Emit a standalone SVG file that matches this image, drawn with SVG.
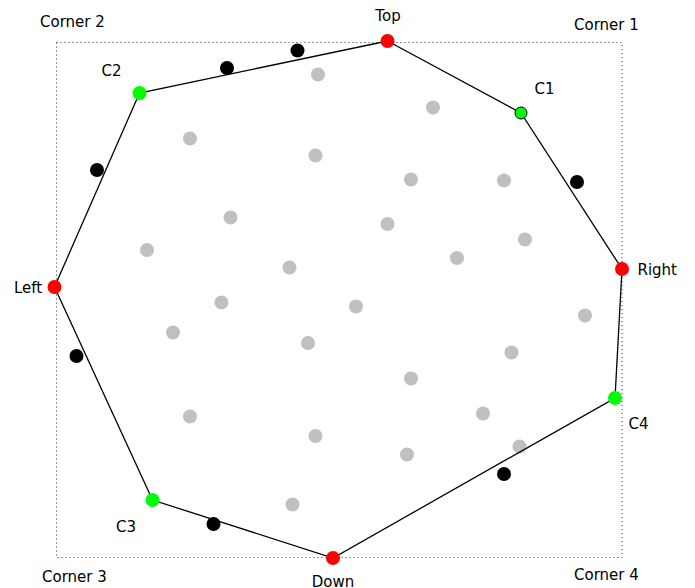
<svg xmlns="http://www.w3.org/2000/svg" width="695" height="588" viewBox="0 0 695 588">
<style>
.lbl{font-family:"DejaVu Sans",sans-serif;font-size:15px;fill:#000}
.g{fill:#c0c0c0}
.b{fill:#000}
.r{fill:#ff0000}
.gr{fill:#00ff00}
.edge{fill:none;stroke:#000;stroke-width:1.3}
</style>
<rect width="695" height="588" fill="#fff"/>
<rect x="56.5" y="42.5" width="565.5" height="515" fill="none" stroke="#333" stroke-width="1" stroke-dasharray="1 3"/>
<g id="gray-points">
<circle class="g" cx="318" cy="74.5" r="7"/>
<circle class="g" cx="433" cy="107.5" r="7"/>
<circle class="g" cx="190" cy="138.5" r="7"/>
<circle class="g" cx="315.5" cy="155.5" r="7"/>
<circle class="g" cx="411" cy="179.5" r="7"/>
<circle class="g" cx="504" cy="180.5" r="7"/>
<circle class="g" cx="230.5" cy="217.5" r="7"/>
<circle class="g" cx="387.5" cy="224" r="7"/>
<circle class="g" cx="525" cy="239.5" r="7"/>
<circle class="g" cx="147" cy="250" r="7"/>
<circle class="g" cx="457" cy="258" r="7"/>
<circle class="g" cx="289.5" cy="267.5" r="7"/>
<circle class="g" cx="221.5" cy="302.5" r="7"/>
<circle class="g" cx="356" cy="306.5" r="7"/>
<circle class="g" cx="585" cy="315.5" r="7"/>
<circle class="g" cx="173" cy="332.5" r="7"/>
<circle class="g" cx="308" cy="343" r="7"/>
<circle class="g" cx="511.5" cy="352.5" r="7"/>
<circle class="g" cx="411" cy="378.5" r="7"/>
<circle class="g" cx="190" cy="416.5" r="7"/>
<circle class="g" cx="483" cy="413.5" r="7"/>
<circle class="g" cx="315.5" cy="436" r="7"/>
<circle class="g" cx="519.5" cy="446.5" r="7"/>
<circle class="g" cx="407" cy="454.5" r="7"/>
<circle class="g" cx="292.5" cy="504.5" r="7"/>
</g>
<g id="connectors">
<polygon class="edge" points="387.5,41 521,113 622,269 615,398 333,558 152.5,500 54.5,287 139.5,93"/>
</g>
<g id="black-points">
<circle class="b" cx="227" cy="68" r="7"/>
<circle class="b" cx="297.5" cy="50.5" r="7"/>
<circle class="b" cx="97" cy="170" r="7"/>
<circle class="b" cx="577" cy="182" r="7"/>
<circle class="b" cx="76.5" cy="356" r="7"/>
<circle class="b" cx="213.5" cy="524" r="7"/>
<circle class="b" cx="504" cy="474" r="7"/>
</g>
<g id="top"><circle class="r" cx="387.5" cy="41" r="7"/><text class="lbl" x="388" y="20.5" text-anchor="middle">Top</text></g>
<g id="c1"><circle class="gr" cx="521" cy="113" r="6" stroke="#000" stroke-width="1"/><text class="lbl" x="534.5" y="94">C1</text></g>
<g id="right"><circle class="r" cx="622" cy="269" r="7"/><text class="lbl" x="637.5" y="274.5">Right</text></g>
<g id="c4"><circle class="gr" cx="615" cy="398" r="7"/><text class="lbl" x="628.5" y="429">C4</text></g>
<g id="down"><circle class="r" cx="333" cy="558" r="7"/><text class="lbl" x="333" y="586.5" text-anchor="middle">Down</text></g>
<g id="c3"><circle class="gr" cx="152.5" cy="500" r="7"/><text class="lbl" x="116" y="531.5">C3</text></g>
<g id="left"><circle class="r" cx="54.5" cy="287" r="7"/><text class="lbl" x="14" y="292.5">Left</text></g>
<g id="c2"><circle class="gr" cx="139.5" cy="93" r="7"/><text class="lbl" x="101.5" y="75.5">C2</text></g>
<g id="corner1"><text class="lbl" x="574" y="30">Corner 1</text></g>
<g id="corner2"><text class="lbl" x="40" y="27">Corner 2</text></g>
<g id="corner3"><text class="lbl" x="42" y="582">Corner 3</text></g>
<g id="corner4"><text class="lbl" x="574" y="580">Corner 4</text></g>
</svg>
